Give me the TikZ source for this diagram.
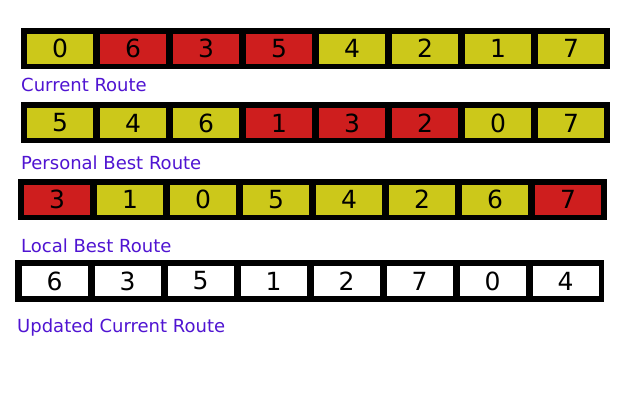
\documentclass[tikz,border=0pt]{standalone}
\usepackage{fontspec}
\setmainfont{DejaVu Sans}
\definecolor{cellyellow}{RGB}{204,200,26}
\definecolor{cellred}{RGB}{206,30,30}
\definecolor{labelblue}{RGB}{80,20,210}
\begin{document}
\begin{tikzpicture}[x=1pt, y=-1pt,
  bar/.style={fill=black, inner sep=0pt, minimum width=589pt, minimum height=41pt},
  cell/.style={inner sep=0pt, minimum width=66pt, minimum height=30pt, font=\fontsize{25}{30}\selectfont},
  yc/.style={cell, fill=cellyellow},
  rc/.style={cell, fill=cellred},
  wc/.style={cell, fill=white},
  routelabel/.style={anchor=base west, inner sep=0pt, text=labelblue, font=\fontsize{18}{22}\selectfont}]
\useasboundingbox[fill=white] (0,0) rectangle (640,400);

% current route
\node[bar] (bar1) at (315.5,48.5){};
\node[yc] (cur0) at (60,48.5){0};
\node[rc] (cur1) at (133,48.5){6};
\node[rc] (cur2) at (206,48.5){3};
\node[rc] (cur3) at (279,48.5){5};
\node[yc] (cur4) at (352,48.5){4};
\node[yc] (cur5) at (425,48.5){2};
\node[yc] (cur6) at (498,48.5){1};
\node[yc] (cur7) at (571,48.5){7};
\node[routelabel] (curlabel) at (21,91){Current Route};

% personal best route
\node[bar] (bar2) at (315.5,122.5){};
\node[yc] (pb0) at (60,123){5};
\node[yc] (pb1) at (133,123){4};
\node[yc] (pb2) at (206,123){6};
\node[rc] (pb3) at (279,123){1};
\node[rc] (pb4) at (352,123){3};
\node[rc] (pb5) at (425,123){2};
\node[yc] (pb6) at (498,123){0};
\node[yc] (pb7) at (571,123){7};
\node[routelabel] (pblabel) at (21,169){Personal Best Route};

% local best route
\node[bar] (bar3) at (312.5,199.5){};
\node[rc] (lb0) at (57,199.5){3};
\node[yc] (lb1) at (130,199.5){1};
\node[yc] (lb2) at (203,199.5){0};
\node[yc] (lb3) at (276,199.5){5};
\node[yc] (lb4) at (349,199.5){4};
\node[yc] (lb5) at (422,199.5){2};
\node[yc] (lb6) at (495,199.5){6};
\node[rc] (lb7) at (568,199.5){7};
\node[routelabel] (lblabel) at (21,252){Local Best Route};

% updated current route
\node[bar, minimum height=42pt] (bar4) at (309.5,281){};
\node[wc] (up0) at (54.5,281){6};
\node[wc] (up1) at (127.5,281){3};
\node[wc] (up2) at (200.5,281){5};
\node[wc] (up3) at (273.5,281){1};
\node[wc] (up4) at (346.5,281){2};
\node[wc] (up5) at (419.5,281){7};
\node[wc] (up6) at (492.5,281){0};
\node[wc] (up7) at (565.5,281){4};
\node[routelabel] (uplabel) at (17,332){Updated Current Route};

\end{tikzpicture}
\end{document}
